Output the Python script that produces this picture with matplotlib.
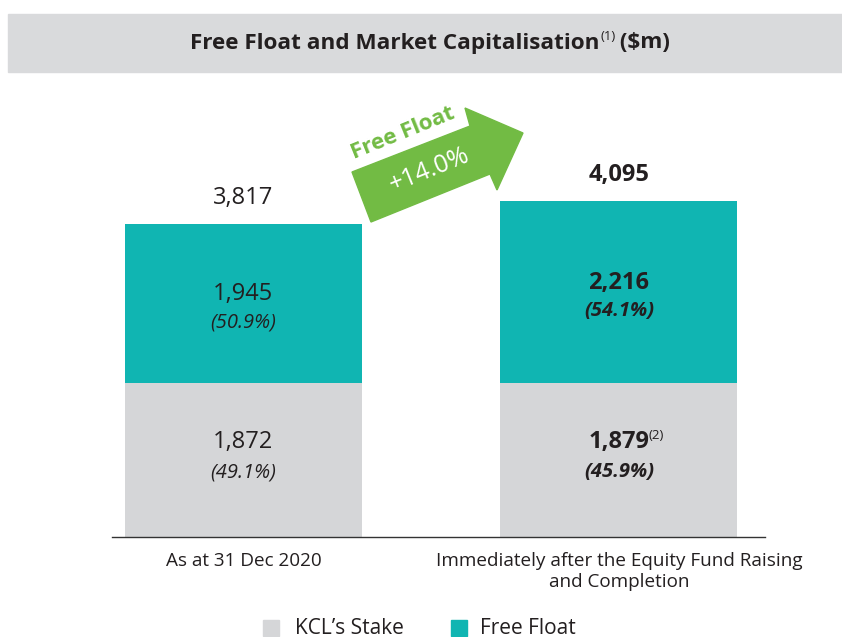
import matplotlib
matplotlib.use("Agg")
import matplotlib.pyplot as plt
from matplotlib.patches import Polygon, Rectangle

# ---- data ----
categories = ["As at 31 Dec 2020",
              "Immediately after the Equity Fund Raising\nand Completion"]
kcl_stake = [1872, 1879]
free_float = [1945, 2216]
totals = [3817, 4095]
kcl_pct = ["(49.1%)", "(45.9%)"]
ff_pct = ["(50.9%)", "(54.1%)"]
kcl_note = ["", "(2)"]
legend_labels = ["KCL\u2019s Stake", "Free Float"]
title = "Free Float and Market Capitalisation"
title_note = "(1)"
title_tail = " ($m)"
arrow_title = "Free Float"
arrow_value = "+14.0%"

# ---- style ----
FONT = "Open Sans"
TXT = "#231f20"
GREY = "#d5d6d8"
TEAL = "#10b5b2"
GREEN = "#72bb44"
BAND = "#d9dadc"
W, H = 842, 637

plt.rcParams["font.family"] = [FONT, "DejaVu Sans"]

fig = plt.figure(figsize=(W / 100, H / 100), dpi=100)


def fx(px):
    return px / W


def fy(py):
    return 1 - py / H


# title band
fig.patches.append(Rectangle((fx(8), fy(72)), fx(W) - fx(8), fy(14) - fy(72),
                             transform=fig.transFigure, color=BAND, zorder=0))

ax = fig.add_axes([fx(112), fy(537), fx(765) - fx(112), fy(80) - fy(537)])
x = [0, 1]
bw = 0.631
ax.bar(x, kcl_stake, width=bw, color=GREY, zorder=2)
ax.bar(x, free_float, width=bw, bottom=kcl_stake, color=TEAL, zorder=2)
ax.set_xlim(-0.350, 1.389)
ax.set_ylim(0, 457 / (313 / 3817))

for s in ["top", "left", "right"]:
    ax.spines[s].set_visible(False)
ax.spines["bottom"].set_color("#333333")
ax.spines["bottom"].set_linewidth(1.0)
ax.set_yticks([])
ax.set_xticks(x)
ax.set_xticklabels(categories, fontsize=13.6, color=TXT, linespacing=1.2)
ax.tick_params(axis="x", length=0, pad=11)

fig.canvas.draw()
renderer = fig.canvas.get_renderer()

for i in range(2):
    bold = "bold" if i == 1 else "normal"
    # totals
    ax.annotate(f"{totals[i]:,}", (x[i], totals[i]), xytext=(0, 19),
                textcoords="offset points", ha="center", va="center",
                fontsize=17, fontweight=bold, color=TXT)
    # free float segment
    mid_ff = kcl_stake[i] + free_float[i] / 2
    ax.annotate(f"{free_float[i]:,}", (x[i], mid_ff), xytext=(0, 6.7),
                textcoords="offset points", ha="center", va="center",
                fontsize=17, fontweight=bold, color=TXT)
    ax.annotate(ff_pct[i], (x[i], mid_ff), xytext=(0, -13.5),
                textcoords="offset points", ha="center", va="center",
                fontsize=14.5, fontweight=bold, fontstyle="italic", color=TXT)
    # kcl segment
    mid_k = kcl_stake[i] / 2
    t = ax.annotate(f"{kcl_stake[i]:,}", (x[i], mid_k), xytext=(0, 13),
                    textcoords="offset points", ha="center", va="center",
                    fontsize=17, fontweight=bold, color=TXT)
    ax.annotate(kcl_pct[i], (x[i], mid_k), xytext=(0, -9),
                textcoords="offset points", ha="center", va="center",
                fontsize=14.5, fontweight=bold, fontstyle="italic", color=TXT)
    if kcl_note[i]:
        bb = t.get_window_extent(renderer)
        fig.text((bb.x1 - 1) / fig.dpi / fig.get_figwidth(),
                 (bb.y1 - 6) / fig.dpi / fig.get_figheight(),
                 kcl_note[i], fontsize=9.5, color=TXT, ha="left", va="center")

# title with superscript
tt = fig.text(0.5, fy(43), title, ha="center", va="center", fontsize=16.2,
              fontweight="bold", color=TXT)
fig.canvas.draw()
bb = tt.get_window_extent(renderer)
sup = fig.text(0, 0, title_note, fontsize=9.5, color=TXT)
tail = fig.text(0, 0, title_tail, fontsize=16.2, fontweight="bold", color=TXT)
sw = sup.get_window_extent(renderer).width
tw = tail.get_window_extent(renderer).width
total_w = bb.width + sw + tw
x0 = 430 - total_w / 2
tt.set_ha("left")
tt.set_position((x0 / W, fy(43)))
sup.set_position(((x0 + bb.width + 1) / W, fy(36)))
sup.set_va("center")
tail.set_position(((x0 + bb.width + sw) / W, fy(43)))
tail.set_va("center")

# arrow
pts = [(352, 172), (470, 126), (465, 108), (523, 133), (497, 190), (490, 174), (371, 222)]
fig.patches.append(Polygon([(fx(px), fy(py)) for px, py in pts], closed=True,
                           transform=fig.transFigure, color=GREEN, zorder=3))
fig.text(fx(403), fy(133), arrow_title, rotation=22, ha="center", va="center",
         rotation_mode="anchor", fontsize=16, fontweight="bold", color=GREEN)
fig.text(fx(429), fy(170), arrow_value, rotation=22, ha="center", va="center",
         rotation_mode="anchor", fontsize=18, color="white", zorder=5)

# legend
colors = [GREY, TEAL]
sq_x = [263, 451]
tx_x = [295, 480]
for c, sx, tx, lab in zip(colors, sq_x, tx_x, legend_labels):
    fig.patches.append(Rectangle((fx(sx), fy(636)), fx(16), fy(620) - fy(636),
                                 transform=fig.transFigure, color=c))
    fig.text(fx(tx), fy(628), lab, ha="left", va="center", fontsize=15, color=TXT)

fig.savefig("out.png", dpi=100)
